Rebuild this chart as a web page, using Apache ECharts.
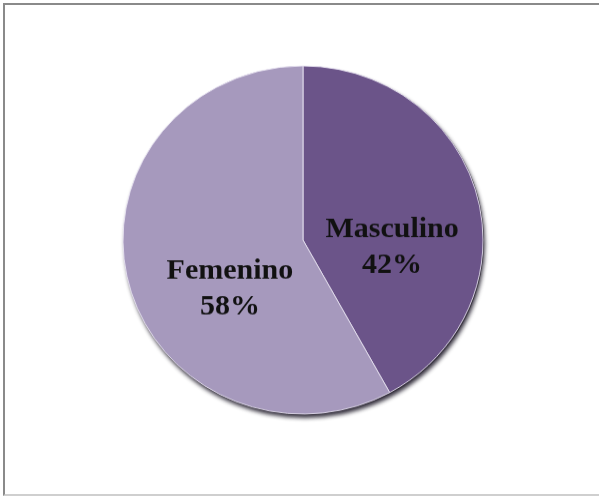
<!DOCTYPE html>
<html>
<head>
<meta charset="utf-8">
<script src="https://cdn.jsdelivr.net/npm/echarts@6/dist/echarts.min.js"></script>
<style>
  html, body { margin: 0; padding: 0; background: #fff; overflow: hidden; }
  #frame {
    position: absolute; left: 3px; top: 3px; width: 600px; height: 489px;
    border-left: 2px solid #8a8a8a; border-top: 2px solid #8a8a8a;
    border-bottom: 2px solid #cfcfcf; box-sizing: content-box;
  }
  /* the pie is drawn slightly flattened, like a tilted disc */
  #chart {
    position: absolute; left: 0; top: 0; width: 599px; height: 497px;
    transform: scaleY(0.967); transform-origin: 303px 240px;
  }
</style>
</head>
<body>
<div id="frame"></div>
<div id="chart"></div>
<script>
// Distribución por sexo
const categories = ['Masculino', 'Femenino'];
const percentages = [42, 58];
const sliceColors = ['#6b5489', '#a699bd'];

const chart = echarts.init(document.getElementById('chart'), null, { renderer: 'canvas' });

const pieData = categories.map((name, i) => ({
  name: name,
  value: percentages[i],
  itemStyle: { color: sliceColors[i] }
}));

// label nudges per slice
const labelShift = [{ dx: -1, dy: 31 }, { dx: 17, dy: 28 }];

chart.setOption({
  animation: false,
  series: [
    {
      // disc underneath that casts the drop shadow
      type: 'pie',
      silent: true,
      center: [304, 241],
      radius: 180,
      label: { show: false },
      labelLine: { show: false },
      itemStyle: {
        color: '#35303d',
        shadowColor: 'rgba(20,15,30,0.85)',
        shadowBlur: 4,
        shadowOffsetX: 1,
        shadowOffsetY: 3
      },
      data: [{ value: 1, name: 'base' }]
    },
    {
      type: 'pie',
      silent: true,
      center: [303, 240],
      radius: 180,
      startAngle: 90,
      clockwise: true,
      itemStyle: { borderColor: 'rgba(235,230,245,0.85)', borderWidth: 1 },
      label: {
        show: true,
        position: 'inside',
        formatter: '{b}\n{d}%',
        fontFamily: '"Liberation Serif", "Times New Roman", serif',
        fontWeight: 'bold',
        fontSize: 30,
        lineHeight: 37,
        color: '#111',
        align: 'center'
      },
      labelLayout: function (params) {
        return labelShift[params.dataIndex];
      },
      labelLine: { show: false },
      data: pieData
    }
  ]
});
</script>
</body>
</html>
